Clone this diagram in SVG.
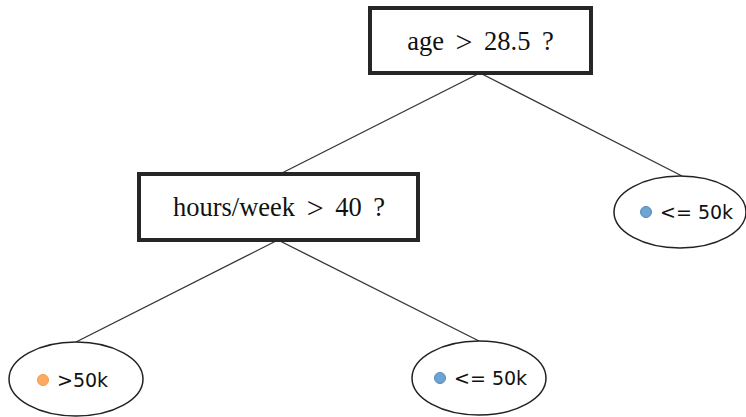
<svg xmlns="http://www.w3.org/2000/svg" width="746" height="417" viewBox="0 0 746 417">
<style>
.box{fill:#fff;stroke:#262626;stroke-width:4}
.q{font-family:"Liberation Serif","DejaVu Serif",serif;font-size:26.500px;word-spacing:5px;fill:#111;text-anchor:middle;dominant-baseline:central}
.gt{font-size:30px}
.leaf{fill:#fff;stroke:#222;stroke-width:1.5}
.lt{font-family:"DejaVu Sans",sans-serif;font-size:19px;fill:#111;dominant-baseline:central}
.edge{stroke:#333;stroke-width:1.3;fill:none}
.blue{fill:#6ea3d2;stroke:#4f8bbf;stroke-width:1}
.orange{fill:#ffaa5e;stroke:#f39a4a;stroke-width:1}
</style>
<rect width="746" height="417" fill="#fff"/>
<g id="connectors">
<line class="edge" x1="480" y1="73" x2="282" y2="173"/>
<line class="edge" x1="480" y1="73" x2="682" y2="176"/>
<line class="edge" x1="278" y1="240" x2="76" y2="342"/>
<line class="edge" x1="278" y1="240" x2="479" y2="341"/>
</g>
<g id="root">
<rect class="box" x="370" y="8" width="221" height="65"/>
<text class="q" x="480.500" y="41">age <tspan class="gt">&gt;</tspan> 28.5 ?</text>
</g>
<g id="hours">
<rect class="box" x="139" y="174" width="279" height="66"/>
<text class="q" x="279" y="207">hours/week <tspan class="gt">&gt;</tspan> 40 ?</text>
</g>
<g id="leaf-right">
<ellipse class="leaf" cx="680" cy="212" rx="66" ry="36"/>
<circle class="blue" cx="646" cy="212" r="5.500"/>
<text class="lt" x="660" y="212">&lt;= 50k</text>
</g>
<g id="leaf-left">
<ellipse class="leaf" cx="76" cy="379" rx="67" ry="37"/>
<circle class="orange" cx="43" cy="380" r="5.500"/>
<text class="lt" x="57" y="380">&gt;50k</text>
</g>
<g id="leaf-mid">
<ellipse class="leaf" cx="479" cy="378" rx="67" ry="37"/>
<circle class="blue" cx="440" cy="378" r="5.500"/>
<text class="lt" x="454" y="378">&lt;= 50k</text>
</g>
</svg>
